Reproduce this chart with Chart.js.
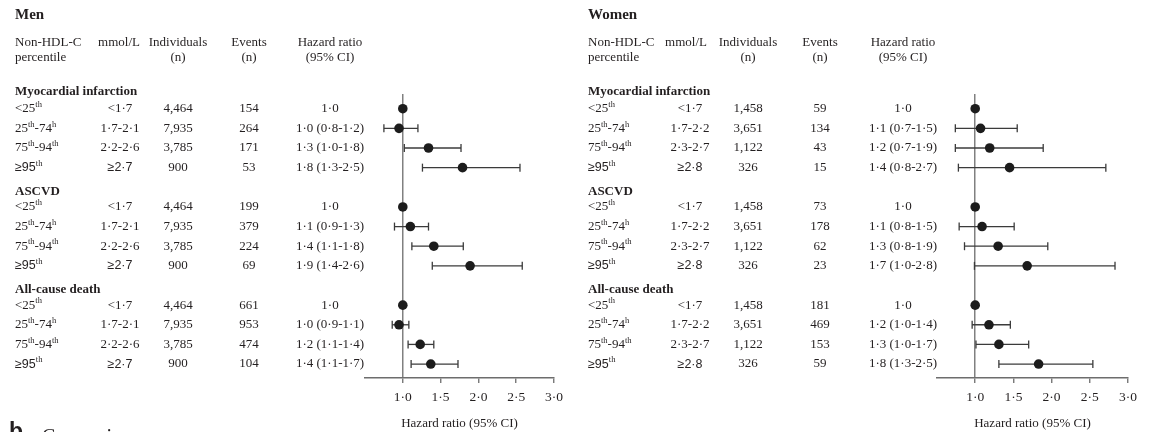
<!DOCTYPE html>
<html>
<head>
<meta charset="utf-8">
<script src="https://cdn.jsdelivr.net/npm/chart.js@4.4.1/dist/chart.umd.min.js"></script>
<style>
  body { margin: 0; background: #fff; }
  .panel { position: absolute; top: 0; width: 575px; height: 432px; }
</style>
</head>
<body>
<div class="panel" style="left:0"><canvas id="menChart" width="575" height="432"></canvas></div>
<div class="panel" style="left:574px"><canvas id="womenChart" width="575" height="432"></canvas></div>
<script>
const outcomes = ["Myocardial infarction", "ASCVD", "All-cause death"];
// {..} marks superscript
const percentiles = ["<25{th}", "25{th}-74{h}", "75{th}-94{th}", "≥95{th}"];
const tickValues = [1.0, 1.5, 2.0, 2.5, 3.0];

const menMmol = ["<1·7", "1·7-2·1", "2·2-2·6", "≥2·7"];
const menIndividuals = ["4,464", "7,935", "3,785", "900"];
const menEvents = [[154, 264, 171, 53], [199, 379, 224, 69], [661, 953, 474, 104]];
const menHrText = [
  ["1·0", "1·0 (0·8-1·2)", "1·3 (1·0-1·8)", "1·8 (1·3-2·5)"],
  ["1·0", "1·1 (0·9-1·3)", "1·4 (1·1-1·8)", "1·9 (1·4-2·6)"],
  ["1·0", "1·0 (0·9-1·1)", "1·2 (1·1-1·4)", "1·4 (1·1-1·7)"]
];
const menHr = [[1.0, 0.95, 1.34, 1.79], [1.0, 1.10, 1.41, 1.89], [1.0, 0.95, 1.23, 1.37]];
const menLow = [[null, 0.75, 1.02, 1.26], [null, 0.89, 1.12, 1.39], [null, 0.86, 1.07, 1.11]];
const menHigh = [[null, 1.20, 1.77, 2.55], [null, 1.34, 1.80, 2.58], [null, 1.08, 1.41, 1.73]];

const womenMmol = ["<1·7", "1·7-2·2", "2·3-2·7", "≥2·8"];
const womenIndividuals = ["1,458", "3,651", "1,122", "326"];
const womenEvents = [[59, 134, 43, 15], [73, 178, 62, 23], [181, 469, 153, 59]];
const womenHrText = [
  ["1·0", "1·1 (0·7-1·5)", "1·2 (0·7-1·9)", "1·4 (0·8-2·7)"],
  ["1·0", "1·1 (0·8-1·5)", "1·3 (0·8-1·9)", "1·7 (1·0-2·8)"],
  ["1·0", "1·2 (1·0-1·4)", "1·3 (1·0-1·7)", "1·8 (1·3-2·5)"]
];
const womenHr = [[1.0, 1.07, 1.19, 1.45], [1.0, 1.09, 1.30, 1.68], [1.0, 1.18, 1.31, 1.83]];
const womenLow = [[null, 0.74, 0.74, 0.78], [null, 0.79, 0.86, 0.99], [null, 0.96, 1.01, 1.31]];
const womenHigh = [[null, 1.55, 1.89, 2.71], [null, 1.51, 1.95, 2.83], [null, 1.46, 1.70, 2.54]];

const SERIF = "'Liberation Serif', 'Times New Roman', serif";
const SANS = "'Liberation Sans', Arial, sans-serif";
const INK = "#231f20";

const rowOf = (g, r) => g * 5 + 1 + r;

// draw text with {sup} parts, aligned at x
function richText(ctx, str, x, y, align) {
  const parts = str.split(/(\{[^}]*\})/).filter(s => s);
  const pieces = parts.map(p => {
    const sup = p.startsWith("{");
    const txt = sup ? p.slice(1, -1) : p;
    const sansy = !sup && txt.startsWith("≥");
    const font = sup ? "8.5px " + SERIF : (sansy ? "12.5px " + SANS : "13px " + SERIF);
    ctx.font = font;
    return { txt, sup, font, w: ctx.measureText(txt).width };
  });
  const total = pieces.reduce((s, p) => s + p.w, 0);
  let cx = align === "center" ? x - total / 2 : x;
  ctx.textAlign = "left";
  pieces.forEach(p => {
    ctx.font = p.font;
    ctx.fillText(p.txt, cx, p.sup ? y - 4 : y);
    cx += p.w;
  });
}

const tablePlugin = {
  id: "table",
  afterDraw(chart, args, opts) {
    const ctx = chart.ctx;
    const y = chart.scales.y;
    const c = opts.cols;
    ctx.save();
    ctx.fillStyle = INK;
    ctx.textBaseline = "middle";

    ctx.font = "bold 15px " + SERIF;
    ctx.textAlign = "left";
    ctx.fillText(opts.title, c.pct, 15);

    ctx.font = "13px " + SERIF;
    ctx.fillText("Non-HDL-C", c.pct, 43);
    ctx.fillText("percentile", c.pct, 58);
    ctx.textAlign = "center";
    ctx.fillText("mmol/L", c.mmolHead, 43);
    ctx.fillText("Individuals", c.indiv, 43);
    ctx.fillText("(n)", c.indiv, 58);
    ctx.fillText("Events", c.events, 43);
    ctx.fillText("(n)", c.events, 58);
    ctx.fillText("Hazard ratio", c.hr, 43);
    ctx.fillText("(95% CI)", c.hr, 58);

    outcomes.forEach((name, g) => {
      ctx.font = "bold 13px " + SERIF;
      ctx.textAlign = "left";
      ctx.fillText(name, c.pct, y.getPixelForValue(g * 5) + (g ? 4 : 3));
      percentiles.forEach((p, r) => {
        const py = y.getPixelForValue(rowOf(g, r));
        richText(ctx, p, c.pct, py, "left");
        richText(ctx, opts.mmol[r], c.mmol, py, "center");
        ctx.font = "13px " + SERIF;
        ctx.textAlign = "center";
        ctx.fillText(opts.indiv[r], c.indiv, py);
        ctx.fillText(String(opts.events[g][r]), c.events, py);
        ctx.fillText(opts.hrText[g][r], c.hr, py);
      });
    });

    if (opts.panelLabel) {
      ctx.textBaseline = "alphabetic";
      ctx.textAlign = "left";
      ctx.font = "bold 23px " + SANS;
      ctx.fillText("b", 9, 439);
      ctx.font = "20px " + SERIF;
      ctx.fillText("Comparison", 42, 443);
    }
    ctx.restore();
  }
};

function makePanel(id, title, cols, pad, mmol, indiv, events, hrText, hr, low, high, panelLabel) {
  const points = [];
  const datasets = [];
  outcomes.forEach((o, g) => {
    percentiles.forEach((p, r) => {
      points.push({ x: hr[g][r], y: rowOf(g, r) });
      if (low[g][r] !== null) {
        datasets.push({
          data: [{ x: low[g][r], y: rowOf(g, r) }, { x: high[g][r], y: rowOf(g, r) }],
          showLine: true,
          borderColor: "#3b3b3b",
          borderWidth: 1.3,
          pointStyle: "line",
          rotation: 90,
          pointRadius: 4,
          pointBorderColor: "#3b3b3b",
          pointBorderWidth: 1.3
        });
      }
    });
  });
  datasets.unshift({
    data: points,
    pointStyle: "circle",
    pointRadius: 4.8,
    backgroundColor: "#1c1c1c",
    borderColor: "#1c1c1c",
    borderWidth: 0
  });

  return new Chart(document.getElementById(id), {
    type: "scatter",
    data: { datasets },
    options: {
      responsive: false,
      animation: false,
      events: [],
      layout: { padding: pad },
      plugins: {
        legend: { display: false },
        tooltip: { enabled: false },
        table: { title, cols, mmol, indiv, events, hrText, panelLabel }
      },
      scales: {
        x: {
          type: "linear",
          min: 0.5,
          max: 3.0,
          afterBuildTicks: s => { s.ticks = tickValues.map(v => ({ value: v })); },
          afterFit: s => { s.height = 54; },
          border: { display: true, color: "#6d6d6d", width: 1.5 },
          grid: {
            drawOnChartArea: true,
            color: c => (c.tick && c.tick.value === 1 ? "#808080" : "rgba(0,0,0,0)"),
            lineWidth: 1.5,
            tickLength: 5,
            tickColor: "#6d6d6d",
            tickWidth: 1.3
          },
          ticks: {
            padding: 6,
            color: INK,
            font: { family: SERIF, size: 13.5 },
            callback: v => v.toFixed(1).replace(".", "·")
          },
          title: {
            display: true,
            text: "Hazard ratio (95% CI)",
            color: INK,
            font: { family: SERIF, size: 13 },
            padding: { top: 0, bottom: 1 }
          }
        },
        y: {
          type: "linear",
          display: false,
          reverse: true,
          min: 0.25,
          max: 14.71
        }
      }
    },
    plugins: [tablePlugin]
  });
}

makePanel("menChart", "Men",
  { pct: 15, mmolHead: 119, mmol: 120, indiv: 178, events: 249, hr: 330 },
  { left: 365, right: 21, top: 94, bottom: 0 },
  menMmol, menIndividuals, menEvents, menHrText, menHr, menLow, menHigh, true);

makePanel("womenChart", "Women",
  { pct: 14, mmolHead: 112, mmol: 116, indiv: 174, events: 246, hr: 329 },
  { left: 363, right: 21, top: 94, bottom: 0 },
  womenMmol, womenIndividuals, womenEvents, womenHrText, womenHr, womenLow, womenHigh, false);
</script>
</body>
</html>
